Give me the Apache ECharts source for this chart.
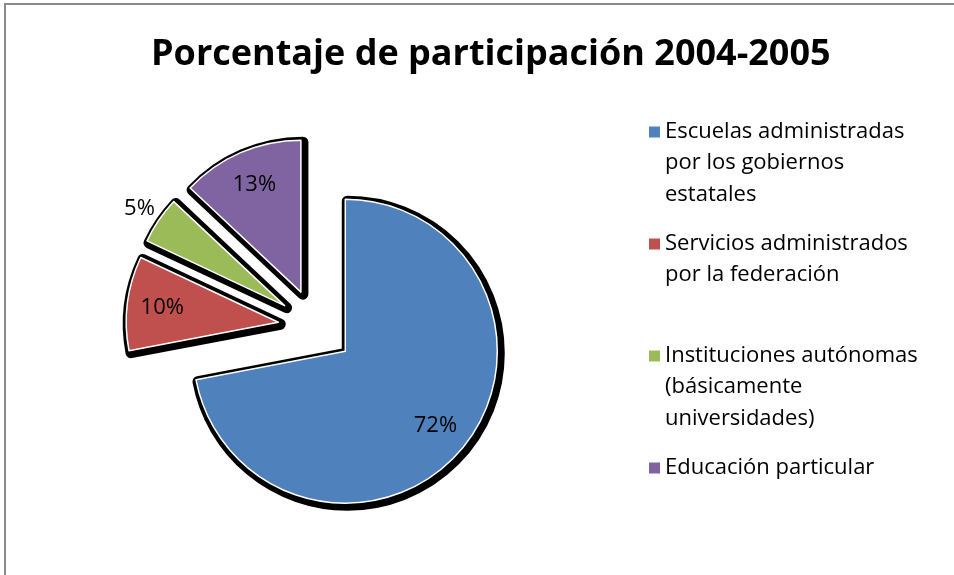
<!DOCTYPE html>
<html>
<head>
<meta charset="utf-8">
<script src="https://cdn.jsdelivr.net/npm/echarts@6/dist/echarts.min.js"></script>
<style>
  html, body { margin: 0; padding: 0; background: #fff; }
  #frame {
    position: absolute; left: 4px; top: 3px; width: 1000px; height: 700px;
    border-left: 2px solid #8a8a8a; border-top: 2px solid #8a8a8a;
  }
  #chart { position: absolute; left: 0; top: 0; width: 954px; height: 575px; }
</style>
</head>
<body>
<div id="frame"></div>
<div id="chart"></div>
<script>
// categorias y valores
var categories = [
  'Escuelas administradas por los gobiernos estatales',
  'Servicios administrados por la federación',
  'Instituciones autónomas (básicamente universidades)',
  'Educación particular'
];
// texto de la leyenda, partido en lineas (todas a 3 lineas)
var legendLabels = [
  'Escuelas administradas\npor los gobiernos\nestatales',
  'Servicios administrados\npor la federación\n',
  'Instituciones autónomas\n(básicamente\nuniversidades)',
  'Educación particular\n\n'
];
var shares = [72, 10, 5, 13];
var colors = ['#4F81BD', '#C0504D', '#9BBB59', '#8064A2'];
var labelPos = ['inside', 'inside', 'outside', 'inside'];

var CX = 316, CY = 327, R = 152, EXPLODE = 38;
var FONT = 'Open Sans';

function pieData(extra) {
  return shares.map(function (v, i) {
    var d = { name: categories[i], value: v, selected: true };
    if (extra) extra(d, i);
    return d;
  });
}

var option = {
  animation: false,
  title: {
    text: 'Porcentaje de participación 2004-2005',
    left: 146,
    top: 32,
    textStyle: { fontFamily: FONT, fontWeight: 'bold', fontSize: 36, color: '#000' }
  },
  legend: {
    orient: 'vertical',
    left: 644,
    top: 111,
    itemWidth: 11,
    itemHeight: 94,
    itemGap: 18,
    // cuadro arriba, caja alargada para alinear con la primera linea
    icon: 'path://M0,10.5h11v11h-11Z M0,0L11,0 M0,94L11,94',
    itemStyle: { borderWidth: 0 },
    formatter: function (name) { return legendLabels[categories.indexOf(name)]; },
    textStyle: { fontFamily: FONT, fontSize: 22, lineHeight: 31.3, color: '#000' },
    data: categories
  },
  series: [
    {
      name: 'participacion',
      type: 'pie',
      center: [CX, CY],
      radius: R,
      startAngle: 90,
      clockwise: true,
      selectedMode: 'multiple',
      selectedOffset: EXPLODE,
      avoidLabelOverlap: false,
      z: 3,
      silent: true,
      color: colors,
      label: { show: false },
      labelLine: { show: false },
      itemStyle: { borderColor: '#fff', borderWidth: 1.5 },
      select: { itemStyle: { borderColor: '#fff', borderWidth: 1.5 } },
      emphasis: { disabled: true },
      data: pieData()
    },
    {
      // contorno negro (sombra)
      name: 'sombra',
      type: 'pie',
      center: [CX + 2, CY + 2],
      radius: R,
      selectedMode: 'multiple',
      selectedOffset: EXPLODE,
      z: 2,
      silent: true,
      label: { show: false },
      labelLine: { show: false },
      itemStyle: { color: '#000', borderColor: '#000', borderWidth: 11, borderJoin: 'round' },
      select: { itemStyle: { color: '#000', borderColor: '#000', borderWidth: 11, borderJoin: 'round' } },
      emphasis: { disabled: true },
      data: pieData()
    },
    {
      // solo etiquetas
      name: 'etiquetas',
      type: 'pie',
      center: [CX, CY],
      radius: [R * 0.5, R],
      selectedMode: 'multiple',
      selectedOffset: EXPLODE,
      avoidLabelOverlap: false,
      z: 4,
      silent: true,
      itemStyle: { color: 'rgba(0,0,0,0)', borderWidth: 0 },
      select: { itemStyle: { color: 'rgba(0,0,0,0)', borderWidth: 0 } },
      emphasis: { disabled: true },
      label: {
        show: true,
        fontFamily: FONT,
        fontSize: 22,
        color: '#000',
        formatter: function (p) { return p.value + '%'; }
      },
      labelLine: { show: false, length: 0, length2: 0 },
      // la etiqueta exterior (5%) va un poco mas arriba y a la izquierda
      labelLayout: function (p) {
        return labelPos[p.dataIndex] === 'outside' ? { dx: -4, dy: -11 } : {};
      },
      data: pieData(function (d, i) {
        d.label = { position: labelPos[i], distanceToLabelLine: 0 };
      })
    }
  ]
};

var myChart = echarts.init(document.getElementById('chart'));
myChart.setOption(option);
</script>
</body>
</html>
